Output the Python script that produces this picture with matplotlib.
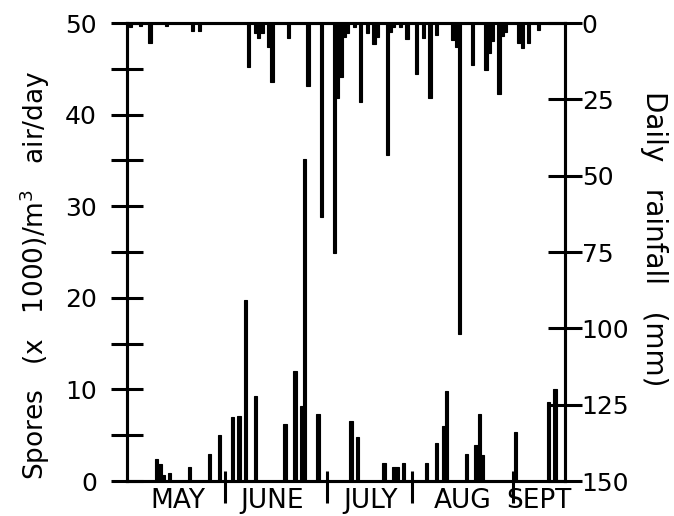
import numpy as np
import matplotlib
matplotlib.use("Agg")
import matplotlib.pyplot as plt

# day index counted from 1 May
spore_days = [9, 10, 11, 13, 19, 25, 28, 32, 34, 36, 39, 48, 51, 53, 54, 58,
              68, 70, 78, 81, 82, 84, 91, 94, 96, 97, 103, 106, 107, 108,
              118, 128, 130]
spore_vals = [2.4, 1.9, 0.7, 0.9, 1.5, 2.9, 5.0, 7.0, 7.1, 19.8, 9.3, 6.2,
              12.0, 8.2, 35.2, 7.3, 6.6, 4.8, 2.0, 1.5, 1.5, 2.0, 2.0, 4.1,
              6.0, 9.8, 2.9, 3.9, 7.3, 2.8, 5.4, 8.6, 10.0]

rain_days = [1, 4, 7, 12, 20, 22, 37, 39, 40, 41, 43, 44, 49, 55, 59, 63,
             64, 65, 66, 67, 69, 71, 73, 75, 76, 79, 80, 81, 83, 85, 88, 90,
             92, 94, 99, 100, 101, 105, 109, 110, 111, 113, 114, 115, 119,
             120, 122, 125]
rain_vals = [1.3, 1.0, 6.5, 1.0, 2.6, 2.6, 14.4, 3.3, 4.9, 3.3, 7.8, 19.3,
             4.9, 20.6, 63.4, 75.2, 24.5, 17.6, 4.5, 3.3, 1.3, 25.8, 3.3,
             6.9, 4.5, 43.1, 2.9, 1.3, 1.3, 5.2, 16.7, 4.9, 24.5, 3.9, 5.5,
             7.8, 102.0, 13.7, 15.4, 9.8, 6.0, 23.2, 4.2, 3.0, 6.5, 8.2, 6.5,
             2.3]

month_names = ["MAY", "JUNE", "JULY", "AUG", "SEPT"]
month_centres = [15.5, 44, 74, 102, 125]
month_breaks = [29.8, 60.6, 86.6, 117.3]

plt.rcParams['font.family'] = 'DejaVu Sans'
lw = 2.2

fig = plt.figure(figsize=(6.74, 5.16), dpi=100)
ax = fig.add_axes([0.1884, 0.0678, 0.8383 - 0.1884, 0.9554 - 0.0678])
ax2 = ax.twinx()

ax.bar(spore_days, spore_vals, width=1.0, color='black',
       edgecolor='black', linewidth=0.8)
ax2.bar(rain_days, rain_vals, width=1.0, color='black',
        edgecolor='black', linewidth=0.8)

ax.set_xlim(0, 133)
ax.set_ylim(0, 50)
ax2.set_ylim(150, 0)

for a in (ax, ax2):
    for s in a.spines.values():
        s.set_linewidth(lw)

ax.set_yticks(np.arange(0, 51, 10))
ax.set_yticks(np.arange(5, 50, 10), minor=True)
ax.tick_params(axis='y', which='both', direction='inout', length=23,
               width=lw, labelsize=18, pad=10)
ax2.set_yticks(np.arange(0, 151, 25))
ax2.tick_params(axis='y', direction='inout', length=24, width=lw,
                labelsize=18, pad=0)

ax.set_xticks(month_centres, month_names)
ax.tick_params(axis='x', length=0, labelsize=19, pad=5)
ax.vlines(month_breaks, -2.4, 1.1, colors='black', linewidth=lw,
          clip_on=False)

ax.set_ylabel('Spores   (x   1000)/m$^3$   air/day', fontsize=19)
ax.yaxis.set_label_coords(-0.172, 0.45)
ax2.set_ylabel('Daily   rainfall   (mm)', fontsize=20, rotation=270)
ax2.yaxis.set_label_coords(1.235, 0.53)

fig.savefig('out.png', dpi=100)
